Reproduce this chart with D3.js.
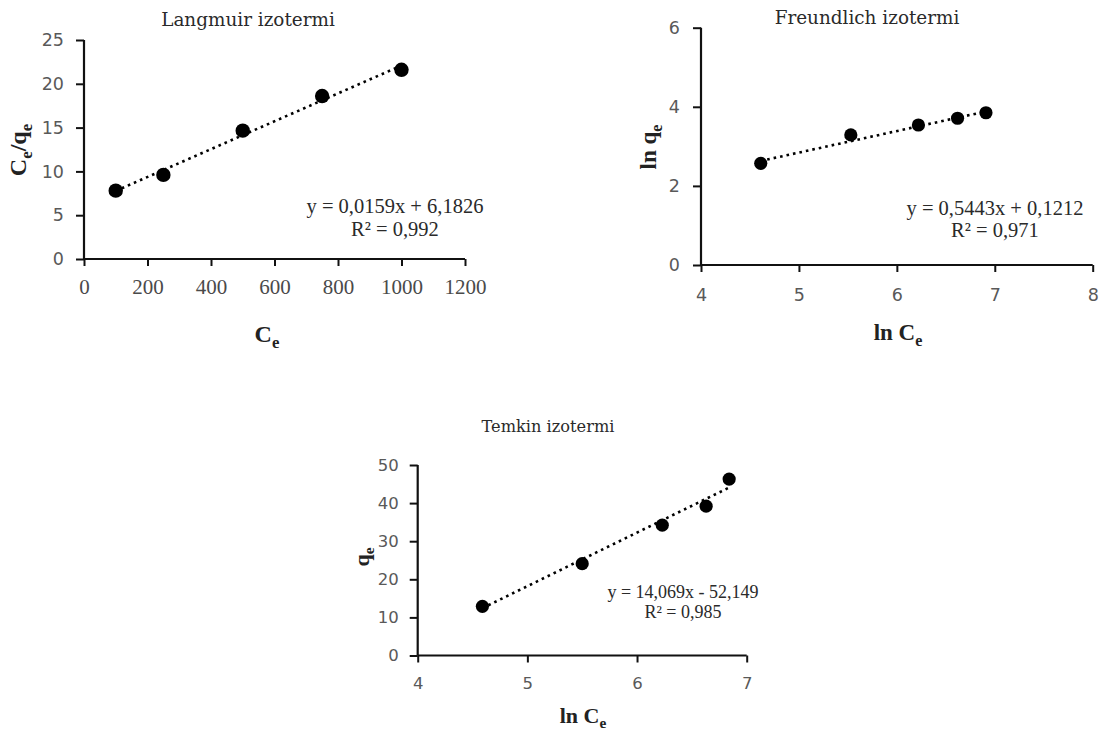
<!DOCTYPE html>
<html><head><meta charset="utf-8">
<script src="https://cdn.jsdelivr.net/npm/d3@7"></script>
<style>body{margin:0;background:#fff}svg{display:block}</style>
</head><body>
<svg id="c" width="1101" height="733"></svg>
<script>
// ---- data ----
const langmuirX = [100, 250, 500, 750, 1000];
const langmuirY = [7.8, 9.6, 14.65, 18.6, 21.6];
const langmuirFit = [0.0159, 6.1826];
const langmuirTicksX = [0, 200, 400, 600, 800, 1000, 1200];
const langmuirTicksY = [0, 5, 10, 15, 20, 25];

const freundlichX = [4.61, 5.53, 6.22, 6.62, 6.91];
const freundlichY = [2.57, 3.29, 3.54, 3.71, 3.85];
const freundlichFit = [0.5443, 0.1212];
const freundlichTicksX = [4, 5, 6, 7, 8];
const freundlichTicksY = [0, 2, 4, 6];

const temkinX = [4.59, 5.5, 6.23, 6.63, 6.84];
const temkinY = [12.9, 24.1, 34.2, 39.2, 46.3];
const temkinFit = [14.069, -52.149];
const temkinTicksX = [4, 5, 6, 7];
const temkinTicksY = [0, 10, 20, 30, 40, 50];

const titles = ["Langmuir izotermi", "Freundlich izotermi", "Temkin izotermi"];
const equations = [
  ["y = 0,0159x + 6,1826", "R² = 0,992"],
  ["y = 0,5443x + 0,1212", "R² = 0,971"],
  ["y = 14,069x - 52,149", "R² = 0,985"]
];
// axis labels as [text, subscript] parts
const yLabels = [[["C","e"],["/q","e"]], [["ln q","e"]], [["q","e"]]];
const xLabels = [[["C","e"]], [["ln C","e"]], [["ln C","e"]]];

const svg = d3.select("#c");
const serif = "'Liberation Serif','Times New Roman',serif";
const wideSerif = "'DejaVu Serif',serif";
const sans = "'DejaVu Sans',sans-serif";

function addParts(t, parts, fs) {
  const sh = fs*0.24;
  let shifted = false;
  parts.forEach(p => {
    const main = t.append("tspan").text(p[0]);
    if (shifted) { main.attr("dy", -sh); shifted = false; }
    if (p[1]) {
      t.append("tspan").attr("font-size", fs*0.7).attr("dy", sh).text(p[1]);
      shifted = true;
    }
  });
}

function panel(cfg) {
  const x = d3.scaleLinear().domain(cfg.xd).range(cfg.xr);
  const y = d3.scaleLinear().domain(cfg.yd).range(cfg.yr);
  const g = svg.append("g");

  const ax = g.append("g").attr("transform", `translate(0,${cfg.yr[0]})`)
    .call(d3.axisBottom(x).tickValues(cfg.tx).tickSize(7).tickPadding(cfg.xpad).tickSizeOuter(7).tickFormat(d3.format("d")));
  const ay = g.append("g").attr("transform", `translate(${cfg.xr[0]},0)`)
    .call(d3.axisLeft(y).tickValues(cfg.ty).tickSize(8).tickPadding(cfg.ypad).tickSizeOuter(8).tickFormat(d3.format("d")));
  [ax, ay].forEach(a => {
    a.select(".domain").attr("stroke", "#111").attr("stroke-width", 2.2);
    a.selectAll(".tick line").attr("stroke", "#111").attr("stroke-width", 2);
    a.selectAll(".tick text").attr("fill", "#595959").attr("font-family", sans).attr("font-size", cfg.tfs);
  });
  if (cfg.xTickSerif) ax.selectAll(".tick text").attr("font-family", serif).attr("font-size", cfg.xTickSerif).attr("fill", "#4a4a4a");
  ax.select(".domain").attr("d", `M${cfg.xr[0]},0H${cfg.xr[1]}`);
  ay.select(".domain").attr("d", `M0,${cfg.yr[0]}V${cfg.yr[1]}`);

  // trendline
  const x0 = d3.min(cfg.xs), x1 = d3.max(cfg.xs);
  g.append("line")
    .attr("x1", x(x0)).attr("y1", y(cfg.fit[0]*x0 + cfg.fit[1]))
    .attr("x2", x(x1)).attr("y2", y(cfg.fit[0]*x1 + cfg.fit[1]))
    .attr("stroke", "#000").attr("stroke-width", 2.6).attr("stroke-dasharray", "2.6,4");

  g.selectAll("circle.pt").data(cfg.xs.map((v,i)=>[v,cfg.ys[i]])).enter().append("circle")
    .attr("cx", d=>x(d[0])).attr("cy", d=>y(d[1])).attr("r", cfg.r).attr("fill", "#000");

  g.append("text").attr("x", cfg.title[0]).attr("y", cfg.title[1]).attr("text-anchor","middle")
    .attr("font-family", wideSerif).attr("font-size", cfg.titfs).attr("fill","#2a2a2a").text(cfg.titleText);

  const eq = g.append("text").attr("font-family", serif).attr("font-size", cfg.eqfs).attr("fill","#2a2a2a").attr("text-anchor","middle");
  eq.append("tspan").attr("x", cfg.eq[0]).attr("y", cfg.eq[1]).text(cfg.eqText[0]);
  eq.append("tspan").attr("x", cfg.eq[0]).attr("y", cfg.eq[1] + cfg.eqgap).text(cfg.eqText[1]);

  const xl = g.append("text").attr("x", cfg.xl[0]).attr("y", cfg.xl[1]).attr("text-anchor","middle")
    .attr("font-family", serif).attr("font-weight","bold").attr("font-size", cfg.lfs).attr("fill","#222");
  addParts(xl, cfg.xlab, cfg.lfs);
  const yl = g.append("text").attr("transform", `translate(${cfg.yl[0]},${cfg.yl[1]}) rotate(-90)`).attr("text-anchor","middle")
    .attr("font-family", serif).attr("font-weight","bold").attr("font-size", cfg.lfs).attr("fill","#222");
  addParts(yl, cfg.ylab, cfg.lfs);
}

panel({xd:[0,1200], yd:[0,25], xr:[84,465], yr:[259,40], tx:langmuirTicksX, ty:langmuirTicksY,
  xs:langmuirX, ys:langmuirY, fit:langmuirFit, xpad:13, ypad:12, tfs:17.5, xTickSerif:21, r:7.2,
  title:[248,26], titleText:titles[0], titfs:18.4,
  eq:[395,213], eqText:equations[0], eqfs:20.5, eqgap:23,
  xl:[267,342], xlab:xLabels[0], ylab:yLabels[0], yl:[26,150], lfs:24});

panel({xd:[4,8], yd:[0,6], xr:[701,1092.7], yr:[265,27.7], tx:freundlichTicksX, ty:freundlichTicksY,
  xs:freundlichX, ys:freundlichY, fit:freundlichFit, xpad:17, ypad:13, tfs:17.5, r:6.6,
  title:[867,24], titleText:titles[1], titfs:18.4,
  eq:[995,215], eqText:equations[1], eqfs:20.5, eqgap:22,
  xl:[898,340], xlab:xLabels[1], ylab:yLabels[1], yl:[656,147], lfs:23});

panel({xd:[4,7], yd:[0,50], xr:[417.7,746.7], yr:[655.5,465], tx:temkinTicksX, ty:temkinTicksY,
  xs:temkinX, ys:temkinY, fit:temkinFit, xpad:15, ypad:11, tfs:16.5, r:6.6,
  title:[548,432], titleText:titles[2], titfs:16.2,
  eq:[683,598], eqText:equations[2], eqfs:18, eqgap:20,
  xl:[583,723], xlab:xLabels[2], ylab:yLabels[2], yl:[369,557], lfs:22});
</script>
</body></html>
